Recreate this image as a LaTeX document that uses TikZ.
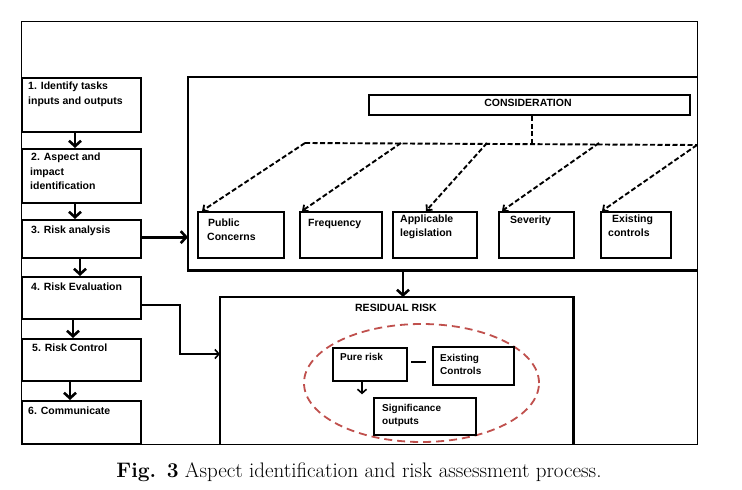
\documentclass[tikz,border=0pt]{standalone}
\usepackage{fontspec}
\setsansfont{Liberation Sans}
\usetikzlibrary{arrows.meta,shapes.geometric}
\definecolor{dred}{RGB}{192,80,77}
\newcommand\mkbox[5]{\node[boxst, minimum width={(#4-#2)*1pt}, minimum height={(#5-#3)*1pt}] (#1) at (#2,#3) {};}
\begin{document}
\begin{tikzpicture}[x=1pt,y=-1pt,
 boxst/.style={draw, line width=2.3pt, inner sep=0pt, anchor=north west},
 txt/.style={font=\sffamily\bfseries\fontsize{10.5}{12}\selectfont, anchor=base west, inner sep=0pt},
 stxt/.style={font=\sffamily\bfseries\fontsize{10}{12}\selectfont, anchor=base west, inner sep=0pt},
 flowarrow/.style={line width=2.8pt, -{Straight Barb[length=5.5pt,width=12pt,line width=2.6pt]}},
 thinarrow/.style={line width=1.6pt, -{Straight Barb[length=4pt,width=9pt,line width=1.6pt]}},
 dasharrow/.style={line width=1.9pt, dash pattern=on 5pt off 2.5pt, -{Straight Barb[length=4pt,width=8pt,line width=1.8pt]}},
 dashline/.style={line width=1.9pt, dash pattern=on 5pt off 2.5pt},
]
\useasboundingbox (0,0) rectangle (742,490);
\fill[white] (0,0) rectangle (742,490);
\draw[line width=1pt] (21,21) rectangle (697,444);

% left column
\mkbox{b1}{21}{77}{140}{131}
\mkbox{b2}{21}{148}{140}{202}
\mkbox{b3}{21}{219}{140}{257}
\mkbox{b4}{21}{276}{140}{318}
\mkbox{b5}{21}{338}{140}{380}
\mkbox{b6}{21}{400}{140}{443}
\node[txt] (t1a) at (28,89.5) {1. Identify tasks};
\node[txt] (t1b) at (28,104) {inputs and outputs};
\node[txt] (t2a) at (31,160.5) {2. Aspect and};
\node[txt] (t2b) at (30,175) {impact};
\node[txt] (t2c) at (30,189) {identification};
\node[txt] (t3) at (31,233) {3. Risk analysis};
\node[txt] (t4) at (31,290.5) {4. Risk Evaluation};
\node[txt] (t5) at (32,351.5) {5. Risk Control};
\node[txt] (t6) at (28,414) {6. Communicate};
\draw[flowarrow] ([xshift=54pt]b1.south west) -- ([xshift=54pt]b2.north west);
\draw[flowarrow] ([xshift=54pt]b2.south west) -- ([xshift=54pt]b3.north west);
\draw[flowarrow] ([xshift=59pt]b3.south west) -- ([xshift=59pt]b4.north west);
\draw[flowarrow] ([xshift=52pt]b4.south west) -- ([xshift=52pt]b5.north west);
\draw[flowarrow] ([xshift=49pt]b5.south west) -- ([xshift=49pt]b6.north west);

% consideration area
\node[inner sep=0pt, anchor=north west, minimum width=509pt, minimum height=193pt] (big) at (188,77) {};
\draw[line width=2.3pt] (big.north east) -- (big.north west) -- (big.south west) -- (big.south east);
\mkbox{cons}{368}{94}{689}{114}
\node[txt, anchor=base] (ctext) at (528,106) {CONSIDERATION};
\mkbox{pub}{197}{211}{283}{257}
\mkbox{freq}{299}{211}{381}{257}
\mkbox{appl}{392}{211}{476}{257}
\mkbox{sev}{498}{211}{573}{257}
\mkbox{exist}{600}{211}{670}{257}
\node[txt] (tpa) at (208,226) {Public};
\node[txt] (tpb) at (207,240) {Concerns};
\node[txt] (tf) at (308,226) {Frequency};
\node[txt] (taa) at (400,222.5) {Applicable};
\node[txt] (tab) at (400,236) {legislation};
\node[txt] (ts) at (510,223) {Severity};
\node[txt] (tea) at (612,222) {Existing};
\node[txt] (teb) at (608,236) {controls};

\coordinate (hub) at (532,143);
\coordinate (d0) at (305,143);
\coordinate (d1) at (401,143);
\coordinate (d2) at (487,143);
\coordinate (d3) at (599,143);
\coordinate (d4) at (697,145);
\draw[dashline] (cons.south -| hub) -- (hub);
\draw[dashline] (d0) -- (d4);
\draw[dasharrow] (d0) -- ([xshift=5pt]pub.north west);
\draw[dasharrow] (d1) -- ([xshift=3pt]freq.north west);
\draw[dasharrow] (d2) -- ([xshift=34pt]appl.north west);
\draw[dasharrow] (d3) -- ([xshift=4pt]sev.north west);
\draw[dasharrow] (d4) -- ([xshift=2pt]exist.north west);

\draw[flowarrow] ([yshift=2pt]b3.east) -- ([yshift=2pt]b3.east -| big.west);

% residual risk
\node[inner sep=0pt, anchor=north west, minimum width=353pt, minimum height=147pt] (res) at (220,297) {};
\draw[line width=2.3pt] (res.south west) -- (res.north west) -- (res.north east) -- (res.south east);
\node[txt, anchor=base] (rtext) at (396,311) {RESIDUAL RISK};
\coordinate (rA) at (403,297);
\draw[flowarrow] (rA |- big.south) -- (rA);
\coordinate (k4) at (180,354);
\draw[thinarrow] ([yshift=-7pt]b4.east) -| (k4) -- (k4 -| res.west);

\node[draw=dred, ellipse, line width=1.8pt, dash pattern=on 8pt off 5pt, minimum width=235pt, minimum height=118pt, inner sep=0pt] (ell) at (421.5,383) {};
\mkbox{pure}{332}{347}{406}{380}
\mkbox{exc}{432}{346}{513}{384}
\mkbox{sig}{373}{397}{475}{434}
\node[stxt] (tpr) at (340,360.5) {Pure risk};
\node[stxt] (tca) at (440,361) {Existing};
\node[stxt] (tcb) at (440,374) {Controls};
\node[stxt] (tsa) at (382,411) {Significance};
\node[stxt] (tsb) at (382,424) {outputs};
\draw[line width=1.4pt] ([shift={(3pt,2.5pt)}]pure.east) -- ([shift={(-6pt,4pt)}]exc.west);
\draw[thinarrow] ([xshift=30pt]pure.south west) -- ++(0,12);

% caption
\node[font=\fontsize{21}{24}\selectfont, anchor=base, inner sep=0pt] (cap) at (359,477) {\textbf{Fig. 3} Aspect identification and risk assessment process.};
\end{tikzpicture}
\end{document}
